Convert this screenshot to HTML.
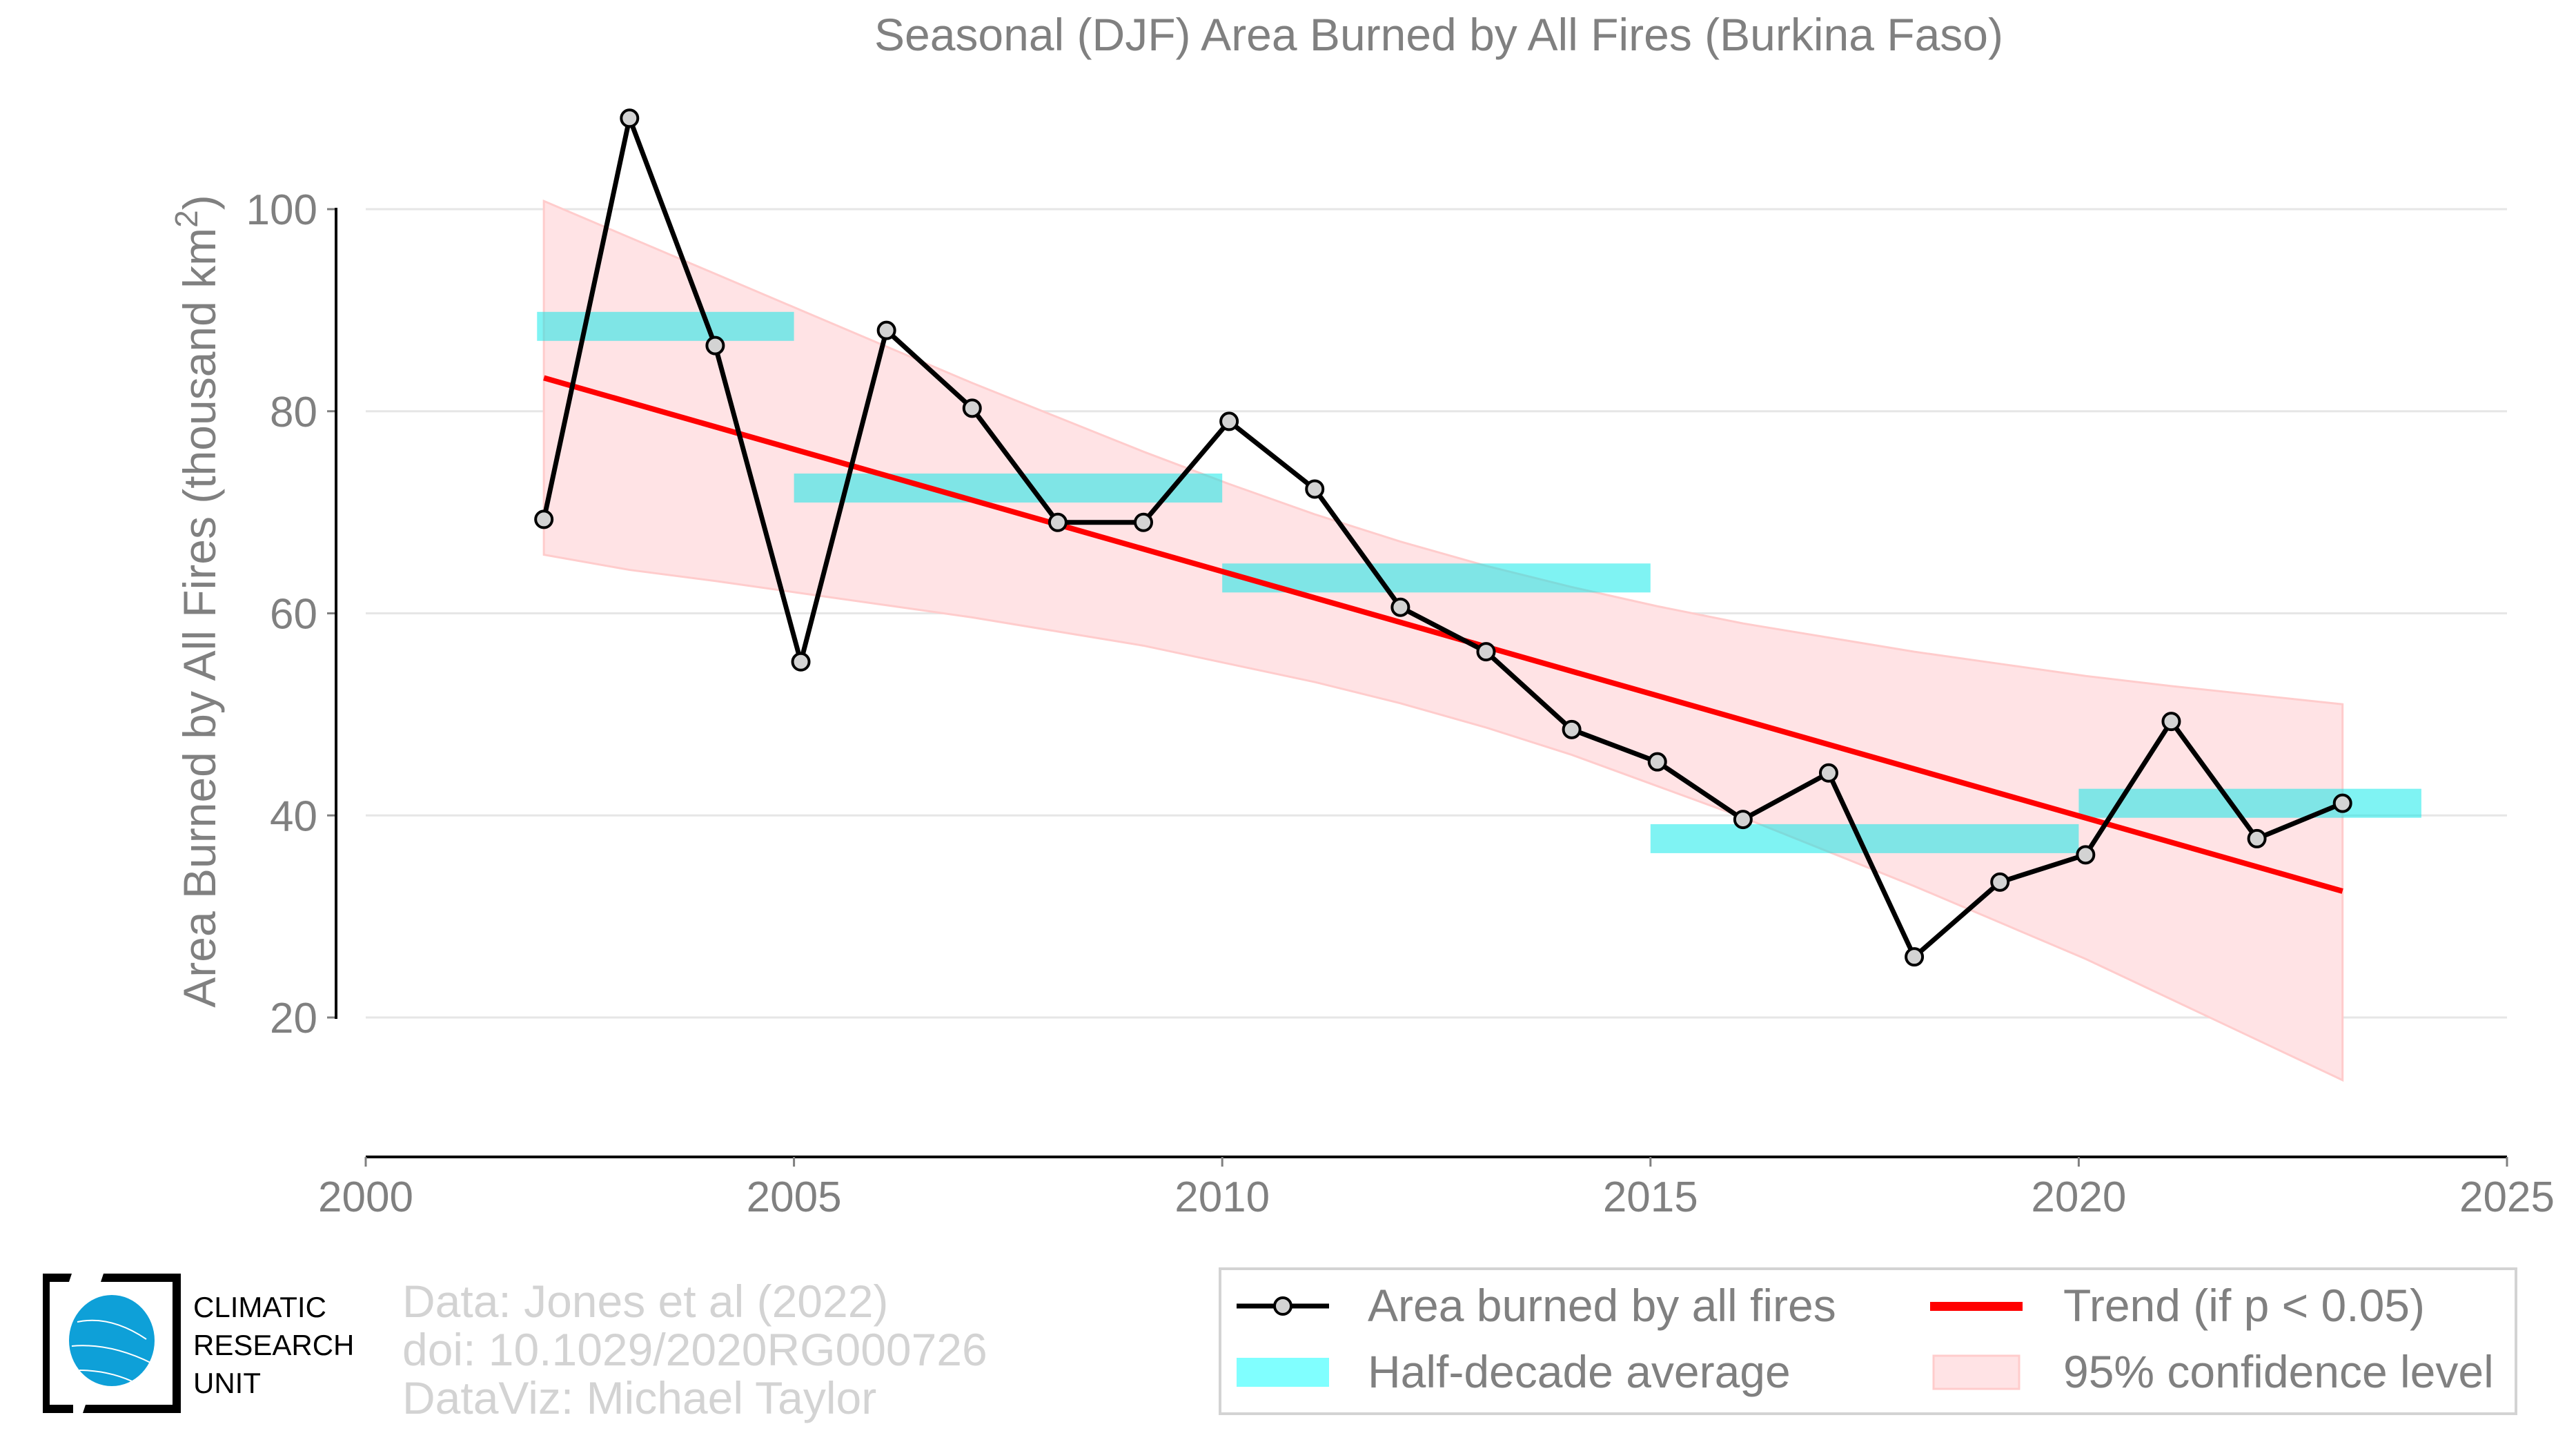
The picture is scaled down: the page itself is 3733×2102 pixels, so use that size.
<!DOCTYPE html>
<html><head><meta charset="utf-8"><style>
html,body{margin:0;padding:0;background:#fff;}
svg{display:block;font-family:"Liberation Sans",sans-serif;}
</style></head><body>
<svg id="chart" width="3733" height="2102" viewBox="0 0 3733 2102" xmlns="http://www.w3.org/2000/svg">
<text x="2085" y="73" text-anchor="middle" font-size="66" fill="#808080">Seasonal (DJF) Area Burned by All Fires (Burkina Faso)</text>
<g id="grid"></g>
<g id="ci"></g>
<g id="bars"></g>
<g id="trend"></g>
<g id="series"></g>
<g id="axes"></g>
<text transform="translate(312,871) rotate(-90)" text-anchor="middle" font-size="66" fill="#808080">Area Burned by All Fires (thousand km<tspan font-size="46" dy="-26">2</tspan><tspan dy="26">)</tspan></text>
<g>
<path d="M62,1845 L62,2047 L106,2047 L106,2035 L72,2035 L72,1857 L100,1857 L104,1845 Z" fill="#000"/>
<path d="M262,1845 L262,2047 L120,2047 L124,2035 L250,2035 L250,1857 L146,1857 L150,1845 Z" fill="#000"/>
<ellipse cx="162" cy="1942" rx="62" ry="66" fill="#0ea0d8"/>
<path d="M112,1915 Q160,1905 212,1940 M104,1950 Q160,1945 220,1975 M115,1985 Q160,1985 200,2005" stroke="#fff" stroke-width="2" fill="none"/>
<text x="280" y="1908" font-size="42" fill="#000">CLIMATIC</text>
<text x="280" y="1963" font-size="42" fill="#000">RESEARCH</text>
<text x="280" y="2018" font-size="42" fill="#000">UNIT</text>
</g>
<g font-size="66" fill="#d3d3d3">
<text x="583" y="1908">Data: Jones et al (2022)</text>
<text x="583" y="1978">doi: 10.1029/2020RG000726</text>
<text x="583" y="2048">DataViz: Michael Taylor</text>
</g>
<g>
<rect x="1768" y="1838" width="1878" height="210" fill="#fff" stroke="#d3d3d3" stroke-width="4"/>
<g>
<line x1="1792" y1="1892" x2="1926" y2="1892" stroke="#000" stroke-width="7"/>
<circle cx="1859" cy="1892" r="12" fill="#d3d3d3" stroke="#000" stroke-width="4"/>
<text x="1982" y="1914" font-size="66" fill="#808080">Area burned by all fires</text></g>
<g>
<rect x="2797" y="1886" width="134" height="13" fill="#ff0000"/>
<text x="2990" y="1914" font-size="66" fill="#808080">Trend (if p &lt; 0.05)</text></g>
<g>
<rect x="1792" y="1967" width="134" height="42" fill="#80ffff"/>
<text x="1982" y="2010" font-size="66" fill="#808080">Half-decade average</text></g>
<g>
<rect x="2802" y="1964" width="124" height="48" fill="#ffe3e5" stroke="#ffcccc" stroke-width="3"/>
<text x="2990" y="2010" font-size="66" fill="#808080">95% confidence level</text></g>
</g>
</svg>
<script>
const years=[2002,2003,2004,2005,2006,2007,2008,2009,2010,2011,2012,2013,2014,2015,2016,2017,2018,2019,2020,2021,2022,2023];
const values=[69.3,109,86.5,55.2,88,80.3,69,69,79,72.3,60.6,56.2,48.5,45.3,39.6,44.2,26,33.4,36.1,49.3,37.7,41.2];
const ciUpper=[100.8,97.2,93.6,90.0,86.4,82.8,79.4,76.0,72.8,69.8,67.1,64.7,62.6,60.7,59.0,57.6,56.2,55.0,53.8,52.8,51.9,51.0];
const ciLower=[65.8,64.3,63.2,62.0,60.8,59.6,58.2,56.8,55.0,53.2,51.1,48.7,46.0,42.9,39.8,36.4,33.0,29.4,25.8,21.8,17.8,13.8];
const trendStart=[2002,83.3];
const trendEnd=[2023,32.5];
const barStarts=[2002,2005,2010,2015,2020];
const barEnds=[2005,2010,2015,2020,2024];
const barValues=[88.4,72.4,63.5,37.7,41.2];
const xTicks=[2000,2005,2010,2015,2020,2025];
const yTicks=[20,40,60,80,100];
const NS="http://www.w3.org/2000/svg";
const X0=530,X1=3633,Y100=303,Y20=1474;
const off=0.08;
function xs(y){return X0+(y-2000)/25*(X1-X0);}
function ys(v){return Y20+(v-20)/80*(Y100-Y20);}
function mk(t,a,p){const e=document.createElementNS(NS,t);for(const k in a)e.setAttribute(k,a[k]);document.getElementById(p).appendChild(e);return e;}
yTicks.forEach(t=>{
 const g=mk('line',{x1:X0,x2:X1,y1:ys(t),y2:ys(t),stroke:'#e6e6e6','stroke-width':3},'grid');
 
 
 const tk=mk('line',{x1:474,x2:487,y1:ys(t),y2:ys(t),stroke:'#808080','stroke-width':3},'axes');
 
 
 const l=mk('text',{x:460,y:ys(t)+22,'text-anchor':'end','font-size':62,fill:'#808080'},'axes');
 l.textContent=t;
 
 
});
const ys1=mk('line',{x1:487,x2:487,y1:ys(100)-2,y2:ys(20)+2,stroke:'#000','stroke-width':4},'axes');


const xa=mk('line',{x1:X0,x2:X1,y1:1676,y2:1676,stroke:'#000','stroke-width':4},'axes');


xTicks.forEach(t=>{
 const tk=mk('line',{x1:xs(t),x2:xs(t),y1:1676,y2:1690,stroke:'#808080','stroke-width':3},'axes');
 
 
 const l=mk('text',{x:xs(t),y:1755,'text-anchor':'middle','font-size':62,fill:'#808080'},'axes');
 l.textContent=t;
 
 
});
let pts=years.map((y,i)=>xs(y+off)+','+ys(ciUpper[i]));
for(let i=years.length-1;i>=0;i--)pts.push(xs(years[i]+off)+','+ys(ciLower[i]));
const band=mk('polygon',{points:pts.join(' '),fill:'#ffe3e5',stroke:'#ffcccc','stroke-width':3},'ci');


barValues.forEach((v,i)=>{
 const r=mk('rect',{x:xs(barStarts[i]),y:ys(v)-21,width:xs(barEnds[i])-xs(barStarts[i]),height:42,fill:'#00e8e8','fill-opacity':0.5},'bars');
 
 
});
const tl=mk('line',{x1:xs(trendStart[0]+off),y1:ys(trendStart[1]),x2:xs(trendEnd[0]+off),y2:ys(trendEnd[1]),stroke:'#ff0000','stroke-width':8},'trend');


const line=mk('polyline',{points:years.map((y,i)=>xs(y+off)+','+ys(values[i])).join(' '),fill:'none',stroke:'#000','stroke-width':7,'stroke-linejoin':'round'},'series');


years.forEach((y,i)=>{
 const c=mk('circle',{cx:xs(y+off),cy:ys(values[i]),r:12,fill:'#d3d3d3',stroke:'#000','stroke-width':4},'series');
 
 
});
</script>
</body></html>
